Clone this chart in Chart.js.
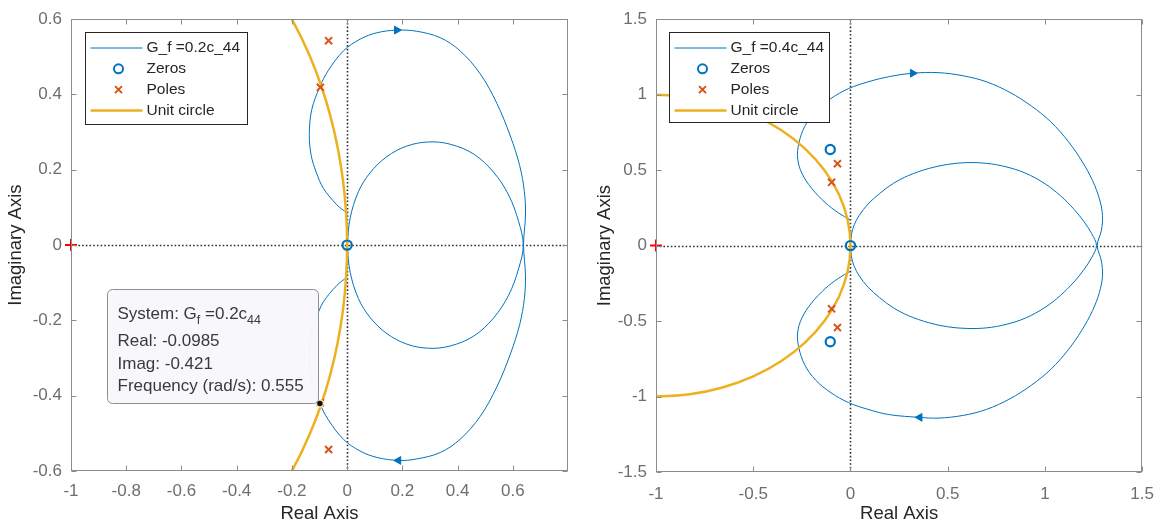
<!DOCTYPE html>
<html>
<head>
<meta charset="utf-8">
<script src="https://cdn.jsdelivr.net/npm/chart.js@4.4.1/dist/chart.umd.min.js"></script>
<style>
  html, body { margin: 0; padding: 0; background: #fff; }
  .wrap { position: absolute; top: 0; width: 583px; height: 527px; }
</style>
</head>
<body>
<div class="wrap" style="left:0"><canvas id="left" width="583" height="527"></canvas></div>
<div class="wrap" style="left:583px"><canvas id="right" width="583" height="527"></canvas></div>
<script>
// ---- data ----
const leftXTicks = [-1, -0.8, -0.6, -0.4, -0.2, 0, 0.2, 0.4, 0.6];
const leftYTicks = [-0.6, -0.4, -0.2, 0, 0.2, 0.4, 0.6];
const rightXTicks = [-1, -0.5, 0, 0.5, 1, 1.5];
const rightYTicks = [-1.5, -1, -0.5, 0, 0.5, 1, 1.5];

// G_f = 0.2c_44
const leftOuter = [
  [0, 0.085], [-0.037, 0.107], [-0.086, 0.151], [-0.112, 0.194], [-0.130, 0.238],
  [-0.137, 0.294], [-0.128, 0.360], [-0.0985, 0.421], [-0.068, 0.464], [-0.013, 0.516],
  [0.047, 0.547], [0.108, 0.564], [0.180, 0.571], [0.252, 0.568], [0.337, 0.551],
  [0.409, 0.516], [0.482, 0.455], [0.542, 0.377], [0.591, 0.290], [0.625, 0.211],
  [0.642, 0.142], [0.646, 0.080], [0.639, 0],
  [0.646, -0.080], [0.642, -0.142], [0.625, -0.211], [0.591, -0.290], [0.542, -0.377],
  [0.482, -0.455], [0.409, -0.516], [0.337, -0.551], [0.252, -0.568], [0.186, -0.572],
  [0.108, -0.564], [0.047, -0.547], [-0.013, -0.516], [-0.068, -0.464], [-0.0985, -0.421],
  [-0.128, -0.360], [-0.137, -0.294], [-0.130, -0.238], [-0.112, -0.194], [-0.086, -0.151],
  [-0.037, -0.107], [0, -0.085]
];
const leftInner = [
  [0, 0], [0.011, 0.072], [0.041, 0.142], [0.083, 0.192], [0.144, 0.235], [0.216, 0.263],
  [0.295, 0.274], [0.373, 0.268], [0.458, 0.242], [0.530, 0.194], [0.585, 0.133],
  [0.621, 0.063], [0.638, 0], [0.621, -0.063], [0.585, -0.133], [0.530, -0.194],
  [0.458, -0.242], [0.373, -0.268], [0.295, -0.274], [0.216, -0.263], [0.144, -0.235],
  [0.083, -0.192], [0.041, -0.142], [0.011, -0.072], [0, 0]
];
const leftZeros = [[0, 0]];
const leftArrows = [[0.180, 0.571], [0.186, -0.572]];
const leftTip = [[-0.0985, -0.421]];

// G_f = 0.4c_44
const rightOuter = [
  [0, 0.17], [-0.06, 0.215], [-0.13, 0.285], [-0.2, 0.38], [-0.25, 0.48], [-0.272, 0.58],
  [-0.265, 0.68], [-0.235, 0.79], [-0.18, 0.89], [-0.1, 0.975], [-0.01, 1.04], [0.09, 1.085],
  [0.2, 1.12], [0.32, 1.142], [0.45, 1.146], [0.58, 1.125], [0.7, 1.085], [0.82, 1.015],
  [0.93, 0.925], [1.03, 0.82], [1.12, 0.69], [1.19, 0.56], [1.245, 0.43], [1.28, 0.31],
  [1.296, 0.2], [1.29, 0.1], [1.269, 0],
  [1.29, -0.1], [1.296, -0.2], [1.28, -0.31], [1.245, -0.43], [1.19, -0.56], [1.12, -0.69],
  [1.03, -0.82], [0.93, -0.925], [0.82, -1.015], [0.7, -1.085], [0.58, -1.125], [0.45, -1.143],
  [0.356, -1.138], [0.2, -1.12], [0.09, -1.085], [-0.01, -1.04], [-0.1, -0.975], [-0.18, -0.89],
  [-0.235, -0.79], [-0.265, -0.68], [-0.272, -0.58], [-0.25, -0.48], [-0.2, -0.38],
  [-0.13, -0.285], [-0.06, -0.215], [0, -0.17]
];
const rightInner = [
  [0, 0], [0.005, 0.075], [0.02, 0.14], [0.045, 0.2], [0.09, 0.275], [0.15, 0.345], [0.22, 0.412],
  [0.3, 0.465], [0.4, 0.51], [0.5, 0.538], [0.6, 0.55], [0.7, 0.545], [0.8, 0.522], [0.9, 0.48],
  [1.0, 0.41], [1.08, 0.33], [1.15, 0.24], [1.2, 0.16], [1.24, 0.08], [1.265, 0],
  [1.24, -0.08], [1.2, -0.16], [1.15, -0.24], [1.08, -0.33], [1.0, -0.41], [0.9, -0.48],
  [0.8, -0.522], [0.7, -0.545], [0.6, -0.549], [0.5, -0.538], [0.4, -0.51], [0.3, -0.465],
  [0.22, -0.412], [0.15, -0.345], [0.09, -0.275], [0.045, -0.2], [0.02, -0.14], [0.005, -0.075], [0, 0]
];
const rightZeros = [[0, 0], [-0.104, 0.637], [-0.104, -0.637]];
const rightArrows = [[0.32, 1.142], [0.356, -1.138]];

// shared
const poles = [[-0.067, 0.543], [-0.097, 0.419], [-0.097, -0.419], [-0.067, -0.543]];
const critical = [[-1, 0]];
const unitCircle = [
  [-1, 1], [-0.8264, 0.9848], [-0.6580, 0.9397], [-0.5, 0.8660], [-0.3572, 0.7660],
  [-0.2340, 0.6428], [-0.1340, 0.5], [-0.0603, 0.3420], [-0.0152, 0.1736], [0, 0],
  [-0.0152, -0.1736], [-0.0603, -0.3420], [-0.1340, -0.5], [-0.2340, -0.6428],
  [-0.3572, -0.7660], [-0.5, -0.8660], [-0.6580, -0.9397], [-0.8264, -0.9848], [-1, -1]
];

// ---- styling ----
const FONT = "'Liberation Sans', Arial, Helvetica, sans-serif";
const BLUE = '#0072BD', ORANGE = '#D95319', YELLOW = '#EDB120';
const TICK_COLOR = '#6e6e6e', AXIS_COLOR = '#8c8c8c', LABEL_COLOR = '#262626';

const pts = arr => arr.map(([x, y]) => ({ x, y }));

// MATLAB-like box with inward ticks and dotted zero lines
const framePlugin = {
  id: 'frame',
  beforeDatasetsDraw(chart) {
    const { ctx, chartArea: a, scales: { x, y } } = chart;
    const x0 = Math.round(x.getPixelForValue(0)) + 0.5;
    const y0 = Math.round(y.getPixelForValue(0)) + 0.5;
    ctx.save();
    ctx.strokeStyle = '#2e2e2e';
    ctx.lineWidth = 1.6;
    ctx.setLineDash([1.6, 2.1]);
    ctx.beginPath();
    ctx.moveTo(x0, a.top); ctx.lineTo(x0, a.bottom);
    ctx.moveTo(a.left, y0); ctx.lineTo(a.right, y0);
    ctx.stroke();
    ctx.restore();
  },
  afterDraw(chart) {
    const { ctx, chartArea: a, scales: { x, y } } = chart;
    const L = Math.round(a.left) + 0.5, R = Math.round(a.right) - 0.5;
    const T = Math.round(a.top) + 0.5, B = Math.round(a.bottom) - 0.5;
    ctx.save();
    ctx.strokeStyle = AXIS_COLOR;
    ctx.lineWidth = 1;
    ctx.strokeRect(L, T, R - L, B - T);
    ctx.beginPath();
    x.ticks.forEach(t => {
      const px = Math.round(x.getPixelForValue(t.value)) + 0.5;
      ctx.moveTo(px, B); ctx.lineTo(px, B - 5);
      ctx.moveTo(px, T); ctx.lineTo(px, T + 5);
    });
    y.ticks.forEach(t => {
      const py = Math.round(y.getPixelForValue(t.value)) + 0.5;
      ctx.moveTo(L, py); ctx.lineTo(L + 5, py);
      ctx.moveTo(R, py); ctx.lineTo(R - 5, py);
    });
    ctx.stroke();
    ctx.restore();
  }
};

function legendPlugin(label, dx, dy, w, h) {
  return {
    id: 'mlLegend',
    afterDraw(chart) {
      const { ctx, chartArea: a } = chart;
      const L = Math.round(a.left + dx) + 0.5, T = Math.round(a.top + dy) + 0.5;
      ctx.save();
      ctx.fillStyle = '#fff';
      ctx.fillRect(L, T, w, h);
      ctx.strokeStyle = '#262626';
      ctx.lineWidth = 1;
      ctx.strokeRect(L, T, w, h);
      const rows = [label, 'Zeros', 'Poles', 'Unit circle'];
      ctx.font = '15.5px ' + FONT;
      ctx.textBaseline = 'middle';
      rows.forEach((txt, i) => {
        const cy = T + 15.5 + 20.8 * i;
        ctx.fillStyle = LABEL_COLOR;
        ctx.fillText(txt, L + 61, cy);
        const mx = L + 33;
        if (i === 0) {
          ctx.strokeStyle = BLUE; ctx.lineWidth = 1;
          ctx.beginPath(); ctx.moveTo(L + 5, cy); ctx.lineTo(L + 57, cy); ctx.stroke();
        } else if (i === 1) {
          ctx.strokeStyle = BLUE; ctx.lineWidth = 2;
          ctx.beginPath(); ctx.arc(mx, cy, 4.5, 0, Math.PI * 2); ctx.stroke();
        } else if (i === 2) {
          ctx.strokeStyle = ORANGE; ctx.lineWidth = 2;
          ctx.beginPath();
          ctx.moveTo(mx - 3.5, cy - 3.5); ctx.lineTo(mx + 3.5, cy + 3.5);
          ctx.moveTo(mx + 3.5, cy - 3.5); ctx.lineTo(mx - 3.5, cy + 3.5);
          ctx.stroke();
        } else {
          ctx.strokeStyle = YELLOW; ctx.lineWidth = 2.5;
          ctx.beginPath(); ctx.moveTo(L + 5, cy); ctx.lineTo(L + 57, cy); ctx.stroke();
        }
      });
      ctx.restore();
    }
  };
}

// data tip box for the left plot
const dataTipPlugin = {
  id: 'dataTip',
  afterDraw(chart) {
    const { ctx, scales: { x, y } } = chart;
    const px = x.getPixelForValue(leftTip[0][0]);
    const py = y.getPixelForValue(leftTip[0][1]);
    const L = Math.round(px - 213) + 0.5, T = Math.round(py - 115) + 0.5;
    const W = 211, H = 114;
    ctx.save();
    ctx.beginPath();
    ctx.roundRect(L, T, W, H, 5);
    ctx.fillStyle = 'rgba(248,248,252,0.97)';
    ctx.fill();
    ctx.strokeStyle = '#8f8f8f';
    ctx.lineWidth = 1;
    ctx.stroke();
    ctx.fillStyle = '#3a3a3a';
    ctx.textBaseline = 'alphabetic';
    const tx = L + 10;
    const big = '17px ' + FONT, small = '12.5px ' + FONT;
    // System: G_f =0.2c_44 with subscripts
    let cx = tx;
    const seg = [['System: G', big, 0], ['f', small, 5], [' =0.2c', big, 0], ['44', small, 5]];
    seg.forEach(([s, f, off]) => {
      ctx.font = f;
      ctx.fillText(s, cx, T + 29 + off);
      cx += ctx.measureText(s).width;
    });
    ctx.font = big;
    ctx.fillText('Real: ' + leftTip[0][0], tx, T + 56);
    ctx.fillText('Imag: ' + leftTip[0][1], tx, T + 79);
    ctx.fillText('Frequency (rad/s): 0.555', tx, T + 101);
    ctx.restore();
  }
};

function makeChart(id, o) {
  const datasets = [
    { data: pts(critical), showLine: false, pointStyle: 'cross', pointRadius: 6, borderColor: '#ff0000', borderWidth: 2, clip: false, order: 1 },
    { data: pts(o.arrows), showLine: false, pointStyle: 'triangle', pointRadius: 4.5, pointRotation: [90, -90],
      backgroundColor: BLUE, borderColor: BLUE, borderWidth: 1, order: 0 },
    { data: pts(o.zeros), showLine: false, pointStyle: 'circle', pointRadius: 4.6, borderColor: BLUE,
      backgroundColor: 'rgba(0,0,0,0)', borderWidth: 2.2, clip: false, order: 2 },
    { data: pts(poles), showLine: false, pointStyle: 'crossRot', pointRadius: 5, borderColor: ORANGE, borderWidth: 2, clip: false, order: 3 },
    { data: pts(unitCircle), showLine: true, pointRadius: 0, borderColor: YELLOW, borderWidth: 2.5, tension: 0.4, order: 4 },
    { data: pts(o.inner), showLine: true, pointRadius: 0, borderColor: BLUE, borderWidth: 1, tension: 0.35, order: 5 },
    { data: pts(o.outer), showLine: true, pointRadius: 0, borderColor: BLUE, borderWidth: 1, tension: 0.35, order: 5 }
  ];
  if (o.tip) {
    datasets.push({ data: pts(o.tip), showLine: false, pointStyle: 'circle', pointRadius: 3.5,
      backgroundColor: '#111', borderColor: 'rgba(255,236,170,0.95)', borderWidth: 1.5, clip: false, order: 0 });
  }
  const tickFont = { family: FONT, size: 17 };
  const titleFont = { family: FONT, size: 18.5 };
  return new Chart(document.getElementById(id), {
    type: 'scatter',
    data: { datasets },
    options: {
      responsive: false,
      animation: false,
      devicePixelRatio: 1,
      events: [],
      layout: { padding: o.pad },
      elements: { line: { capBezierPoints: false } },
      plugins: { legend: { display: false }, tooltip: { enabled: false } },
      scales: {
        x: {
          type: 'linear', min: o.xRange[0], max: o.xRange[1],
          afterBuildTicks: s => { s.ticks = o.xTicks.map(v => ({ value: v })); },
          afterFit: s => { s.height = o.xAxisH; },
          grid: { display: false, drawTicks: false, tickLength: 0 },
          border: { display: false },
          ticks: { color: TICK_COLOR, font: tickFont, padding: o.xTickPad, maxRotation: 0, autoSkip: false,
            callback: v => String(v) },
          title: { display: true, text: 'Real Axis', color: LABEL_COLOR, font: titleFont, padding: { top: 0, bottom: 2 } }
        },
        y: {
          type: 'linear', min: o.yRange[0], max: o.yRange[1],
          afterBuildTicks: s => { s.ticks = o.yTicks.map(v => ({ value: v })); },
          afterFit: s => { s.width = o.yAxisW; },
          grid: { display: false, drawTicks: false, tickLength: 0 },
          border: { display: false },
          ticks: { color: TICK_COLOR, font: tickFont, padding: 9, autoSkip: false,
            callback: v => String(v) },
          title: { display: true, text: 'Imaginary Axis', color: LABEL_COLOR, font: titleFont, padding: { top: o.yTitlePad, bottom: 0 } }
        }
      }
    },
    plugins: o.plugins
  });
}

makeChart('left', {
  outer: leftOuter, inner: leftInner, zeros: leftZeros, arrows: leftArrows, tip: leftTip,
  xTicks: leftXTicks, yTicks: leftYTicks, xRange: [-1, 0.8], yRange: [-0.6, 0.6],
  pad: { top: 11, right: 15, bottom: 0, left: 0 }, yAxisW: 71, xAxisH: 56, xTickPad: 10, yTitlePad: 5,
  plugins: [framePlugin, legendPlugin('G_f =0.2c_44', 14, 13, 162, 92), dataTipPlugin]
});

makeChart('right', {
  outer: rightOuter, inner: rightInner, zeros: rightZeros, arrows: rightArrows, tip: null,
  xTicks: rightXTicks, yTicks: rightYTicks, xRange: [-1, 1.5], yRange: [-1.5, 1.5],
  pad: { top: 19, right: 20, bottom: 0, left: 0 }, yAxisW: 73, xAxisH: 55, xTickPad: 12, yTitlePad: 11,
  plugins: [framePlugin, legendPlugin('G_f =0.4c_44', 13, 13, 160, 90)]
});
</script>
</body>
</html>
